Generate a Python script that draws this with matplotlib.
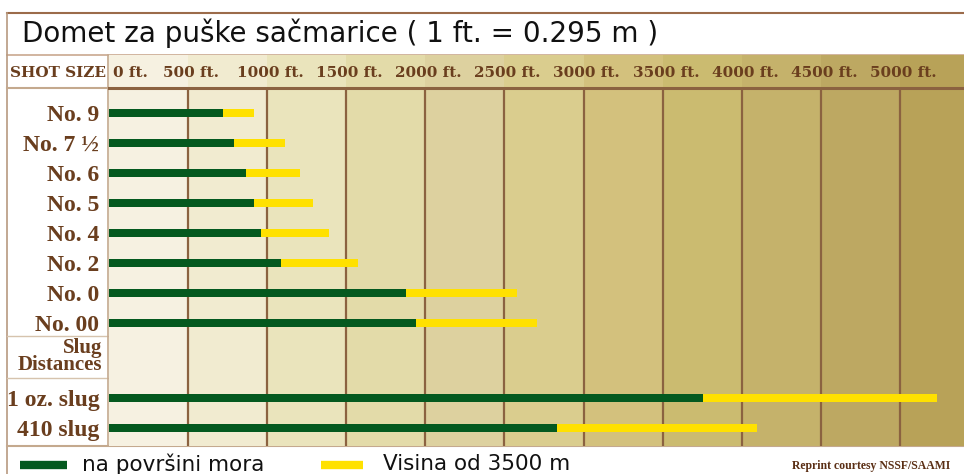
import numpy as np
import matplotlib.pyplot as plt
from matplotlib.transforms import blended_transform_factory

# domet sacme (ft) - zelena = na razini mora, zuta = na 3500 m
shot_sizes = ['No. 9', 'No. 7 ½', 'No. 6', 'No. 5', 'No. 4', 'No. 2', 'No. 0', 'No. 00']
shot_sea = [720, 792, 864, 915, 961, 1087, 1875, 1939]
shot_alt = [915, 1112, 1207, 1291, 1391, 1576, 2577, 2704]

slug_names = ['1 oz. slug', '410 slug']
slug_sea = [3757, 2830]
slug_alt = [5236, 4098]

ft_ticks = [0, 500, 1000, 1500, 2000, 2500, 3000, 3500, 4000, 4500, 5000]
ft_labels = [f'{t} ft.' for t in ft_ticks]

TITLE = 'Domet za puške sačmarice ( 1 ft. = 0.295 m )'

GREEN = '#04591f'
YELLOW = '#ffe100'
BROWN = '#8b6240'
TXT = '#6a3e1e'
SERIF = ['Liberation Serif', 'DejaVu Serif']
col_colors = ['#f6f1e1', '#f1ebd0', '#eae4bc', '#e3dba9', '#ddd19f', '#dacd8e',
              '#d3c17d', '#cbbb70', '#c5b26b', '#bda862', '#b8a258']

W, H = 964, 474
fig = plt.figure(figsize=(W / 100, H / 100), dpi=100)

# background axes in pixel coordinates for the frame / title / legend
bg = fig.add_axes([0, 0, 1, 1])
bg.set_xlim(0, W)
bg.set_ylim(H, 0)
bg.axis('off')

bg.plot([7, W], [13, 13], color='#9b6b4a', lw=1.5)
bg.plot([7, W], [55, 55], color='#c9a88f', lw=1.2)
bg.plot([7, 7], [13, H], color='#b89a80', lw=1.2)
bg.plot([7, 108], [336, 336], color='#d6c3ad', lw=1)
bg.plot([7, 108], [378, 378], color='#d6c3ad', lw=1)
bg.plot([7, W], [446, 446], color='#c4a98e', lw=1.5)
bg.plot([108, 108], [55, 446], color='#c4a98e', lw=1.2)
bg.plot([7, 108], [88, 88], color='#c4a98e', lw=1.5)

bg.text(22, 33, TITLE, fontsize=20, family='DejaVu Sans', color='#111111', va='center')
bg.text(58, 73, 'SHOT SIZE', fontsize=11, family='DejaVu Serif', weight='bold',
        color=TXT, ha='center', va='center')
bg.text(102, 356, 'Slug\nDistances', fontsize=15, family=SERIF, weight='bold',
        color=TXT, ha='right', va='center', linespacing=0.8)

# legenda
bg.plot([20, 67], [465, 465], color=GREEN, lw=6, solid_capstyle='butt')
bg.text(82, 464, 'na površini mora', fontsize=15.5, color='#111111', va='center')
bg.plot([321, 363], [465, 465], color=YELLOW, lw=6, solid_capstyle='butt')
bg.text(383, 464, 'Visina od 3500 m', fontsize=15.5, color='#111111', va='center')
bg.text(792, 466, 'Reprint courtesy NSSF/SAAMI', fontsize=8.5, family=SERIF,
        weight='bold', color='#5a2e14', va='center')

# main bar axes
left, top, bottom = 109, 88, 446
ax = fig.add_axes([left / W, (H - bottom) / H, (W - left) / W, (bottom - top) / H])
xmax = (W - left) / 79.1 * 500
ax.set_xlim(0, xmax)
ax.set_ylim(11.11, -0.82)

# stupci pozadine (idu i preko headera)
edges = ft_ticks + [xmax]
for i in range(len(col_colors)):
    ax.axvspan(edges[i], edges[i + 1], ymin=0, ymax=1.092, color=col_colors[i],
               lw=0, clip_on=False, zorder=0)
for t in ft_ticks[1:]:
    ax.axvline(t, color=BROWN, lw=1.6, zorder=1)

y_shot = np.arange(len(shot_sizes))
y_slug = np.array([9.5, 10.5])
bh = 0.27
ax.barh(y_shot, np.array(shot_alt) - np.array(shot_sea), left=shot_sea, height=bh, color=YELLOW, zorder=2)
ax.barh(y_shot, shot_sea, height=bh, color=GREEN, zorder=3)
ax.barh(y_slug, np.array(slug_alt) - np.array(slug_sea), left=slug_sea, height=bh, color=YELLOW, zorder=2)
ax.barh(y_slug, slug_sea, height=bh, color=GREEN, zorder=3)

ax.set_yticks(list(y_shot) + list(y_slug))
ax.set_yticklabels(shot_sizes + slug_names, fontsize=17, family=SERIF,
                   weight='bold', color=TXT)
ax.tick_params(axis='y', length=0, pad=7)
ax.set_xticks([])

# header labels
tr = blended_transform_factory(ax.transData, ax.transAxes)
for t, lab in zip(ft_ticks, ft_labels):
    if t == 0:
        ax.text(25, 1.043, lab, transform=tr, ha='left', va='center', fontsize=11,
                family='DejaVu Serif', weight='bold', color=TXT)
    else:
        ax.text(t + 20, 1.043, lab, transform=tr, ha='center', va='center', fontsize=11,
                family='DejaVu Serif', weight='bold', color=TXT)

for s in ['left', 'right', 'bottom']:
    ax.spines[s].set_visible(False)
ax.spines['top'].set_color(BROWN)
ax.spines['top'].set_linewidth(2.2)

fig.savefig('out.png', dpi=100)
